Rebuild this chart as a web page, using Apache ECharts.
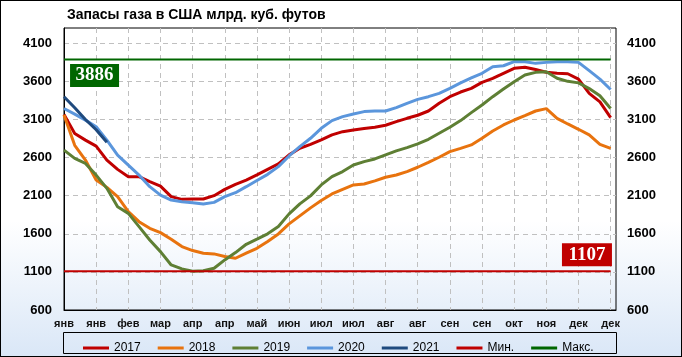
<!DOCTYPE html>
<html>
<head>
<meta charset="utf-8">
<script src="https://cdn.jsdelivr.net/npm/echarts@6/dist/echarts.min.js"></script>
<style>
html,body{margin:0;padding:0;}
#bg{position:absolute;left:0;top:0;width:682px;height:357px;box-sizing:border-box;border:1px solid #000;
background:linear-gradient(to bottom,#ffffff 0%,#ffffff 62%,#dae7f7 100%);}
#chart{position:absolute;left:0;top:0;width:682px;height:357px;}
</style>
</head>
<body>
<div id="bg"></div>
<div id="chart"></div>
<script>
const tickLabels = ['янв','янв','фев','мар','апр','апр','май','июн','июл','июл','авг','авг','сен','сен','окт','ноя','дек','дек'];
const y2017 = [3165,2917,2829,2750,2567,2445,2349,2349,2283,2226,2087,2052,2056,2056,2100,2183,2249,2305,2372,2445,2517,2635,2722,2774,2831,2897,2940,2962,2980,2997,3024,3072,3115,3155,3211,3312,3399,3460,3508,3587,3639,3705,3771,3784,3755,3720,3705,3700,3630,3443,3330,3125];
const y2018 = [3157,2760,2567,2305,2209,2087,1890,1759,1672,1615,1528,1432,1380,1345,1336,1301,1279,1345,1410,1500,1598,1730,1835,1940,2036,2123,2184,2241,2254,2294,2342,2372,2416,2473,2538,2604,2678,2720,2766,2853,2949,3028,3093,3150,3211,3242,3115,3041,2971,2897,2774,2720];
const y2019 = [2698,2589,2523,2370,2196,1955,1868,1694,1519,1366,1191,1139,1110,1115,1148,1257,1353,1462,1530,1600,1695,1861,1992,2097,2241,2350,2416,2503,2547,2582,2635,2687,2731,2779,2840,2919,2997,3085,3190,3290,3399,3499,3596,3683,3718,3727,3640,3600,3580,3505,3410,3245];
const y2020 = [3244,3170,3091,3004,2829,2632,2501,2370,2218,2108,2043,2021,2008,1990,2012,2087,2139,2218,2300,2380,2481,2621,2744,2853,2984,3085,3137,3172,3203,3211,3211,3255,3312,3364,3399,3443,3508,3580,3645,3705,3792,3805,3858,3858,3836,3849,3858,3858,3849,3740,3630,3493];
const y2021 = [3397,3253,3100,2965,2800];
const minVal = 1107;
const maxVal = 3886;
const seriesNames = ['2017','2018','2019','2020','2021','Мин.','Макс.'];

const toPts = arr => arr.map((v,i)=>[i,v]);
const lastWeek = y2017.length - 1;
const F = 'Liberation Sans';

const chart = echarts.init(document.getElementById('chart'));
const lineSeries = (name, data, color, width) => ({
  name, type:'line', data, symbol:'none', showSymbol:false,
  lineStyle:{color, width}, itemStyle:{color}, animation:false
});
const option = {
  animation:false,
  title:{text:'Запасы газа в США млрд. куб. футов', left:62, top:3,
    textStyle:{fontFamily:F, fontSize:14, fontWeight:'bold', color:'#000'}},
  grid:{left:64, right:66, top:28, bottom:47, show:true, borderColor:'#000', borderWidth:1, backgroundColor:'transparent'},
  legend:{data:seriesNames.map(n=>({name:n, icon:'rect'})), left:78, top:337, itemWidth:26, itemHeight:3, itemGap:17,
    textStyle:{fontFamily:F, fontSize:12, color:'#000'}},
  graphic:[{type:'rect', shape:{x:63.5, y:332.5, width:553, height:21}, style:{fill:'none', stroke:'#000', lineWidth:1}, silent:true}],
  xAxis:[{type:'value', min:0, max:51.5, interval:3,
    axisLine:{show:true, lineStyle:{color:'#000'}}, axisTick:{show:false},
    axisLabel:{margin:8, fontFamily:F, fontSize:11, fontWeight:'bold', color:'#111',
      formatter:(v)=>{const k=v/3; return Number.isInteger(k)&&tickLabels[k]?tickLabels[k]:'';}},
    splitLine:{show:true, showMinLine:false, showMaxLine:false, lineStyle:{color:'#c0c0c0', type:[5,4], width:1}}}],
  yAxis:[{type:'value', min:600, max:4300, interval:500, position:'left',
      axisLine:{show:true, lineStyle:{color:'#000'}}, axisTick:{show:false},
      axisLabel:{margin:12, fontFamily:F, fontSize:13, fontWeight:'bold', color:'#000', showMaxLabel:false,
        formatter:(v)=> v<=4100? String(v):''},
      splitLine:{show:true, showMinLine:false, showMaxLine:false, lineStyle:{color:'#c0c0c0', type:[5,4], width:1}}},
    {type:'value', min:600, max:4300, interval:500, position:'right',
      axisLine:{show:false}, axisTick:{show:false}, splitLine:{show:false},
      axisLabel:{margin:11, fontFamily:F, fontSize:13, fontWeight:'bold', color:'#000', showMaxLabel:false,
        formatter:(v)=> v<=4100? String(v):''}}],
  series:[
    lineSeries('2017', toPts(y2017), '#c00000', 3),
    lineSeries('2018', toPts(y2018), '#e8730e', 3),
    lineSeries('2019', toPts(y2019), '#5e7f34', 3),
    lineSeries('2020', toPts(y2020), '#5b96dc', 3),
    lineSeries('2021', toPts(y2021), '#1f4a7e', 3),
    Object.assign(lineSeries('Мин.', [[0,minVal],[lastWeek,minVal]], '#c00000', 2), {
      markPoint:{symbol:'rect', symbolSize:[50,23], symbolOffset:[0,-16.5], animation:false,
        data:[{coord:[48.79, minVal], value:minVal}],
        itemStyle:{color:'#c00000'},
        label:{show:true, formatter:String(minVal), color:'#fff', fontFamily:'Liberation Serif', fontWeight:'bold', fontSize:19}}}),
    Object.assign(lineSeries('Макс.', [[0,maxVal],[lastWeek,maxVal]], '#006600', 2), {
      markPoint:{symbol:'rect', symbolSize:[49,23], symbolOffset:[0,16], animation:false,
        data:[{coord:[2.85, maxVal], value:maxVal}],
        itemStyle:{color:'#006600'},
        label:{show:true, formatter:String(maxVal), color:'#fff', fontFamily:'Liberation Serif', fontWeight:'bold', fontSize:19}}})
  ]
};
chart.setOption(option);
</script>
</body>
</html>
